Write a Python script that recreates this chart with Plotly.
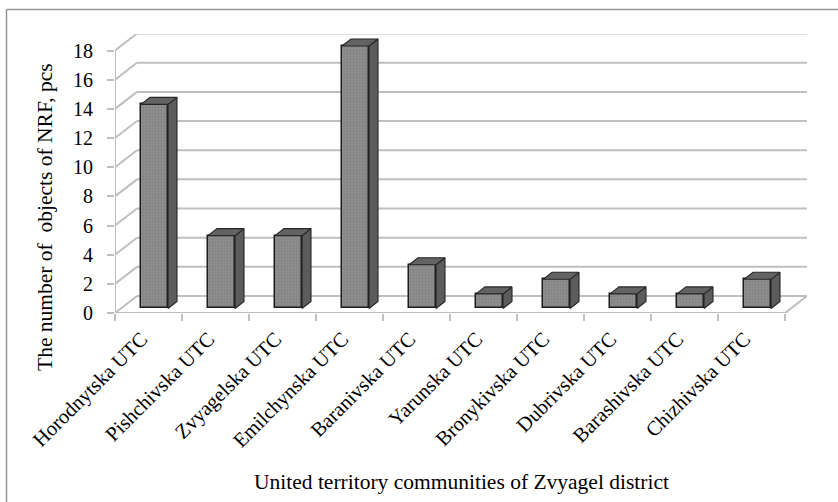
import plotly.graph_objects as go

categories = ["Horodnytska UTC", "Pishchivska UTC", "Zvyagelska UTC", "Emilchynska UTC",
              "Baranivska UTC", "Yarunska UTC", "Bronykivska UTC", "Dubrivska UTC",
              "Barashivska UTC", "Chizhivska UTC"]
values = [14, 5, 5, 18, 3, 1, 2, 1, 1, 2]
y_ticks = [0, 2, 4, 6, 8, 10, 12, 14, 16, 18]
x_title = "United territory communities of Zvyagel district"
y_title = "The number of  objects of NRF, pcs"

W, H = 838, 502
L, R, T, B = 115, 807, 34, 313
px_x = 67.0
px_y = 14.58
DX = 22 / px_x
DY = 17 / px_y
bar_w = 27 / px_x
bar_off = 6 / px_x
bar_base = 0.31
dep_x = 9 / px_x
dep_y = 7 / px_y
GRID = "#bfbfbf"
FONT = "Liberation Serif"
n = len(categories)
xs = [i + bar_off for i in range(n)]
x0, x1 = -0.5, n - 0.5

fig = go.Figure()
fig.add_trace(go.Bar(
    x=xs, y=values, base=bar_base, width=bar_w, showlegend=False, hoverinfo="skip",
    marker=dict(color="#8a8a8a", line=dict(color="#1c1c1c", width=1.5),
                pattern=dict(shape=".", fgcolor="#747474", bgcolor="#8e8e8e", size=3, solidity=0.4)),
))
for cx, v in zip(xs, values):
    l, r = cx - bar_w / 2, cx + bar_w / 2
    top = v + bar_base
    fig.add_trace(go.Scatter(
        x=[r, r + dep_x, r + dep_x, r, r], y=[bar_base, bar_base + dep_y, top + dep_y, top, bar_base],
        mode="lines", fill="toself", fillcolor="#5c5c5c", line=dict(color="#262626", width=1.1),
        showlegend=False, hoverinfo="skip"))
    fig.add_trace(go.Scatter(
        x=[l, l + dep_x, r + dep_x, r, l], y=[top, top + dep_y, top + dep_y, top, top],
        mode="lines", fill="toself", fillcolor="#636363", line=dict(color="#262626", width=1.1),
        showlegend=False, hoverinfo="skip"))

shapes = []
def seg(a, b, c, d):
    shapes.append(dict(type="line", xref="x", yref="y", x0=a, y0=b, x1=c, y1=d,
                       layer="below", line=dict(color=GRID, width=2)))
for t in y_ticks:
    seg(x0, t, x0 + DX, t + DY)
    seg(x0 + DX, t + DY, x1 + DX, t + DY)
seg(x0, 0, x0, y_ticks[-1])
seg(x0, 0, x1, 0)
seg(x1, 0, x1 + DX, DY)
fx = lambda p: (p - L) / (R - L)
fy = lambda p: (B - p) / (B - T)
for a, b, c, d in [(6.5, 9.5, 838, 9.5), (6.5, 9.5, 6.5, 502)]:
    shapes.append(dict(type="line", xref="paper", yref="paper", x0=fx(a), y0=fy(b), x1=fx(c), y1=fy(d),
                       layer="below", line=dict(color="#969696", width=1.5)))

fig.update_layout(
    width=W, height=H, margin=dict(l=L, r=W - R, t=T, b=H - B, pad=0, autoexpand=False),
    paper_bgcolor="white", plot_bgcolor="white", showlegend=False, shapes=shapes,
    bargap=0,
    font=dict(family=FONT, size=20, color="black"),
    xaxis=dict(range=[x0, x1 + DX], tickmode="array", tickvals=list(range(n)), ticktext=categories,
               tickangle=-45, ticks="", showgrid=False, zeroline=False, showline=False,
               ticklabelstandoff=9, ticklabelshift=-7,
               tickfont=dict(family=FONT, size=20.5),
               minor=dict(tickmode="array", tickvals=[i - 0.5 for i in range(n + 1)], ticks="outside",
                          ticklen=7, tickwidth=1.5, tickcolor=GRID, showgrid=False)),
    yaxis=dict(range=[0, (B - T) / px_y], tickmode="array", tickvals=y_ticks, ticks="outside",
               ticklen=7, tickwidth=1.5, tickcolor=GRID, showgrid=False, zeroline=False, showline=False,
               ticklabelstandoff=10, tickfont=dict(family=FONT, size=20)),
    annotations=[
        dict(text=x_title, xref="paper", yref="paper", x=fx(461), y=fy(482),
             showarrow=False, font=dict(family=FONT, size=21.5), xanchor="center", yanchor="middle"),
        dict(text=y_title, xref="paper", yref="paper", x=fx(45), y=fy(217),
             textangle=-90, showarrow=False, font=dict(family=FONT, size=21.5), xanchor="center", yanchor="middle"),
    ],
)
fig.write_html("out.html", config={"displayModeBar": False}, post_script="document.body.style.margin='0';")
